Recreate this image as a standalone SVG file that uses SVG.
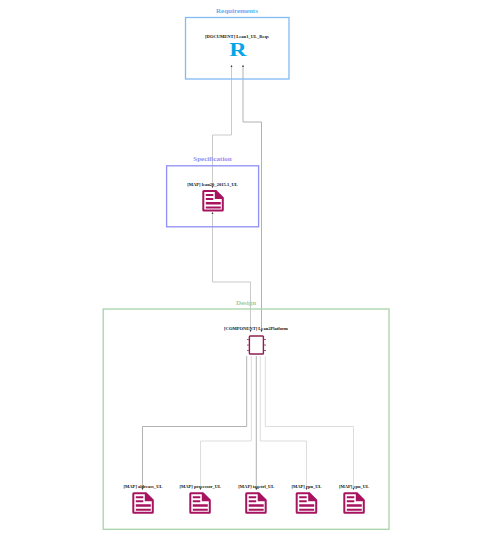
<svg xmlns="http://www.w3.org/2000/svg" width="504" height="544" viewBox="0 0 504 544">
<style>
text{font-family:"Liberation Serif","Times New Roman",serif;font-weight:bold;text-anchor:middle;opacity:.99}
.t{font-size:7px}
.l{font-size:4.55px;fill:#111}
.c{fill:none;stroke:#bdbdbd;stroke-width:.8}
.d{stroke:#9e9e9e}
.e{stroke:#d4d4d4}
.b{fill:none;stroke-width:1.3}
.doc{fill:#a8135f}
.w{fill:#fff}
</style>
<defs>
<marker id="a" markerWidth="3" markerHeight="3" refX="2.400" refY="1.200" orient="auto-start-reverse" markerUnits="userSpaceOnUse"><path d="M0 0L2.400 1.200L0 2.400z" fill="#444"/></marker>
<g id="doc">
<path class="doc" d="M0 0H14L21.500 7.500V20Q21.500 21.500 20 21.500H1.500Q0 21.500 0 20V1.500Q0 0 1.500 0z"/>
<path class="w" d="M2 2H12.500V9H19.500V19.500H2z"/>
<path class="doc" d="M3.500 4H11V6H3.500zM3.500 8H11V10H3.500zM3.500 12H18.500V14.500H3.500zM3.500 16.500H18.500V18.500H3.500z"/>
</g>
</defs>
<g id="connectors">
<path class="c" marker-start="url(#a)" marker-end="url(#a)" d="M212.500 188V135H231.500V65"/>
<path class="c d" marker-start="url(#a)" marker-end="url(#a)" d="M261.500 332V122H243V65"/>
<path class="c" marker-start="url(#a)" marker-end="url(#a)" d="M250.500 332V282H212.500V212"/>
<path class="c d" marker-end="url(#a)" d="M246.700 356V426.500H142.500V490"/>
<path class="c e" marker-end="url(#a)" d="M251.300 356V441H200.500V490"/>
<path class="c d" marker-end="url(#a)" d="M256.300 356V490"/>
<path class="c e" marker-end="url(#a)" d="M260.300 356V441H306.500V490"/>
<path class="c e" marker-end="url(#a)" d="M265.300 356V426.500H353.500V490"/>
</g>
<g id="requirements">
<rect class="b" x="185.500" y="17.500" width="103.500" height="61.500" stroke="#80bcf3"/>
<text class="t" x="237" y="13" fill="#5eaef0">Requirements</text>
<text class="l" x="237" y="38">[DOCUMENT] Lean1_UL_Reqs</text>
<text x="0" y="0" font-size="18.500" fill="#03a4e8" transform="translate(238 55.500) scale(1.3 1)">R</text>
</g>
<g id="specification">
<rect class="b" x="166.600" y="165.800" width="92" height="61" stroke="#8f8ff7"/>
<text class="t" x="212.500" y="161" fill="#9090f2">Specification</text>
<text class="l" x="212.500" y="186">[MAP] lean20_2015.1_UL</text>
<use href="#doc" x="202.300" y="190"/>
</g>
<g id="design">
<rect class="b" x="103.200" y="309" width="285.800" height="220.300" stroke="#a9d3a9"/>
<text class="t" x="246" y="305" fill="#a0cda0">Design</text>
</g>
<g id="lean2platform">
<text class="l" x="256" y="330">[COMPONENT] Lean2Platform</text>
<rect x="249.400" y="336" width="14" height="18" rx=".8" fill="#fff" stroke="#8e1f4f" stroke-width="1.400"/>
<path d="M247 339.500H249M247 345H249M247 350.500H249M264 339.500H266M264 345H266M264 350.500H266" stroke="#b0507a" stroke-width="1.100"/>
</g>
<g id="n1"><text class="l" x="143" y="488">[MAP] aldreass_UL</text><use href="#doc" x="132.300" y="492.300"/></g>
<g id="n2"><text class="l" x="200.300" y="488">[MAP] processor_UL</text><use href="#doc" x="189.300" y="492.300"/></g>
<g id="n3"><text class="l" x="256.300" y="488">[MAP] tagctrl_UL</text><use href="#doc" x="245.200" y="492.300"/></g>
<g id="n4"><text class="l" x="306.500" y="488">[MAP] rpu_UL</text><use href="#doc" x="295.700" y="492.300"/></g>
<g id="n5"><text class="l" x="354" y="488">[MAP] cpu_UL</text><use href="#doc" x="343.300" y="492.300"/></g>
</svg>
